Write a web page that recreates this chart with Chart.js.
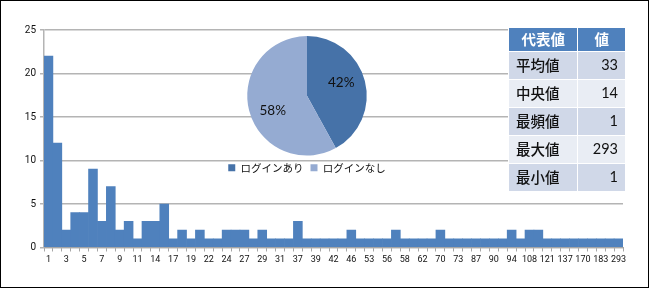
<!DOCTYPE html>
<html>
<head>
<meta charset="utf-8">
<script src="https://cdn.jsdelivr.net/npm/chart.js@4"></script>
<style>
  body { margin: 0; background: #fff; }
  #wrap { position: relative; width: 650px; height: 290px; }
  #frame { position: absolute; left: 0; top: 0; width: 647px; height: 286px; border: 1px solid #000; pointer-events: none; }
  #bars { position: absolute; left: 0; top: 0; }
  #pie { position: absolute; left: 217px; top: 36px; }
  #stats {
    position: absolute; left: 508px; top: 27px; width: 118px;
    border-collapse: collapse;
    font-family: "Noto Sans CJK JP", sans-serif; font-size: 14.5px; font-weight: 500; color: #111;
  }
  #stats td, #stats th { border: 1px solid #fff; padding: 0 7px; height: 27px; line-height: 1; }
  #stats th { background: #4f81bd; color: #fff; font-weight: bold; font-size: 14.5px; text-align: center; height: 23px; }
  #stats td.num { text-align: right; font-family: "Lato", "Noto Sans", sans-serif; font-weight: normal; font-size: 14.5px; }
  #stats tr.odd td { background: #d0d8e8; }
  #stats tr.even td { background: #e9edf4; }
</style>
</head>
<body>
<div id="wrap">
  <canvas id="bars" width="650" height="290"></canvas>
  <canvas id="pie" width="180" height="148"></canvas>
  <table id="stats"></table>
  <div id="frame"></div>
</div>
<script>
// login count (x categories) and number of users (bar heights)
const loginCounts = [1, 2, 3, 4, 5, 6, 7, 8, 9, 10, 11, 12, 14, 15, 17, 18, 19, 20, 22, 23,
  24, 25, 27, 28, 29, 30, 31, 33, 37, 38, 39, 41, 42, 44, 46, 50, 53, 55, 56, 57,
  58, 60, 62, 66, 70, 72, 73, 80, 87, 89, 90, 92, 94, 100, 108, 115, 121, 130, 137, 150,
  170, 175, 183, 210, 293];
const userCounts = [22, 12, 2, 4, 4, 9, 3, 7, 2, 3, 1, 3, 3, 5, 1, 2, 1, 2, 1, 1,
  2, 2, 2, 1, 2, 1, 1, 1, 3, 1, 1, 1, 1, 1, 2, 1, 1, 1, 1, 2,
  1, 1, 1, 1, 2, 1, 1, 1, 1, 1, 1, 1, 2, 1, 2, 2, 1, 1, 1, 1,
  1, 1, 1, 1, 1];
const yTicks = [0, 5, 10, 15, 20, 25];

const pieLabels = ['ログインあり', 'ログインなし'];
const pieValues = [42, 58];

const statNames = ['平均値', '中央値', '最頻値', '最大値', '最小値'];
const statValues = [33, 14, 1, 293, 1];
const statHeader = ['代表値', '値'];

const xFont = { family: 'Roboto, sans-serif', size: 9 };
const yFont = { family: 'Roboto, sans-serif', size: 10 };
const gridGray = '#b4b4b4';

new Chart(document.getElementById('bars'), {
  type: 'bar',
  data: {
    labels: loginCounts.map(String),
    datasets: [{
      data: userCounts,
      backgroundColor: '#4f81bd',
      borderWidth: 0,
      barPercentage: 1,
      categoryPercentage: 1
    }]
  },
  options: {
    responsive: false,
    animation: false,
    events: [],
    layout: { padding: { top: 30, right: 27, bottom: 22.5, left: 0 } },
    plugins: { legend: { display: false }, tooltip: { enabled: false } },
    scales: {
      x: {
        afterFit: s => { s.height = 20; },
        grid: { drawOnChartArea: false, drawTicks: true, tickLength: 4, color: '#a6a6a6' },
        border: { color: '#a6a6a6' },
        ticks: {
          autoSkip: false, maxRotation: 0, padding: 3, color: '#111', font: xFont,
          callback: (v, i) => (i % 2 === 0 ? loginCounts[i] : '')
        }
      },
      y: {
        min: yTicks[0],
        max: yTicks[yTicks.length - 1],
        afterFit: s => { s.width = 44; },
        afterBuildTicks: s => { s.ticks = yTicks.map(v => ({ value: v })); },
        grid: { color: gridGray, lineWidth: 1.5, tickLength: 4 },
        border: { color: gridGray, width: 1.5 },
        ticks: { padding: 4, color: '#111', font: yFont }
      }
    }
  }
});

// percent labels inside the pie slices
const pieText = {
  id: 'pieText',
  afterDatasetsDraw(chart) {
    const ctx = chart.ctx;
    const total = pieValues.reduce((a, b) => a + b, 0);
    ctx.save();
    ctx.font = '13.5px Lato, "Noto Sans", sans-serif';
    ctx.fillStyle = '#111';
    ctx.textAlign = 'center';
    ctx.textBaseline = 'middle';
    chart.getDatasetMeta(0).data.forEach((arc, i) => {
      const p = arc.getProps(['x', 'y', 'startAngle', 'endAngle', 'outerRadius']);
      const mid = (p.startAngle + p.endAngle) / 2 - 0.14;
      const r = p.outerRadius * 0.62;
      ctx.fillText(Math.round(pieValues[i] / total * 100) + '%',
        p.x + Math.cos(mid) * r, p.y + Math.sin(mid) * r + 1);
    });
    ctx.restore();
  }
};

new Chart(document.getElementById('pie'), {
  type: 'pie',
  data: {
    labels: pieLabels,
    datasets: [{
      data: pieValues,
      backgroundColor: ['#4672a8', '#95abd2'],
      borderWidth: 0
    }]
  },
  options: {
    responsive: false,
    animation: false,
    events: [],
    layout: { padding: { bottom: 1 } },
    plugins: {
      tooltip: { enabled: false },
      legend: {
        position: 'bottom',
        labels: {
          boxWidth: 7, boxHeight: 7, padding: 7, color: '#111',
          font: { family: '"Noto Sans CJK JP", sans-serif', size: 10.5 }
        }
      }
    }
  },
  plugins: [pieText]
});

// summary table
const table = document.getElementById('stats');
let html = '<tr><th>' + statHeader[0] + '</th><th>' + statHeader[1] + '</th></tr>';
statNames.forEach((name, i) => {
  html += '<tr class="' + (i % 2 === 0 ? 'odd' : 'even') + '"><td>' + name +
    '</td><td class="num">' + statValues[i] + '</td></tr>';
});
table.innerHTML = html;
</script>
</body>
</html>
